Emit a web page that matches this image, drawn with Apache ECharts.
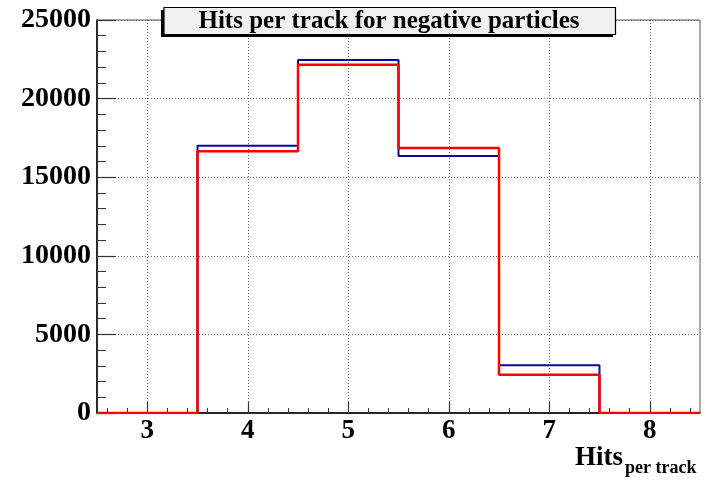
<!DOCTYPE html>
<html>
<head>
<meta charset="utf-8">
<script src="https://cdn.jsdelivr.net/npm/echarts@6/dist/echarts.min.js"></script>
<style>
  html, body { margin: 0; padding: 0; background: #fff; }
  #chart { width: 706px; height: 483px; }
</style>
</head>
<body>
<div id="chart"></div>
<script>
// Histogram bins: number of hits per track (bin centres)
var hitBins = [3, 4, 5, 6, 7, 8];
// Entries per bin, two samples
var blueCounts = [0, 17000, 22450, 16350, 3030, 0];
var redCounts  = [0, 16650, 22150, 16850, 2430, 0];
// Axis tick labels
var xTickLabels = [3, 4, 5, 6, 7, 8];
var yTicks = [0, 5000, 10000, 15000, 20000, 25000];

var xMin = 2.5, xMax = 8.5;
var serifFont = '"Liberation Serif", "DejaVu Serif", serif';

// Build step outline points at bin edges (value holds until the next edge)
function stepPoints(centres, counts) {
  var pts = [];
  for (var i = 0; i < centres.length; i++) {
    pts.push([centres[i] - 0.5, counts[i]]);
  }
  var last = centres.length - 1;
  pts.push([centres[last] + 0.5, counts[last]]);
  return pts;
}

// Minor tick positions every 0.2 along x, skipping the major ones
var xMinorTicks = [];
for (var k = 13; k <= 42; k++) {
  var v = k / 5;
  if (Math.abs(v - Math.round(v)) > 1e-6) xMinorTicks.push(v);
}

var chart = echarts.init(document.getElementById('chart'), null, { renderer: 'canvas' });

chart.setOption({
  backgroundColor: '#ffffff',
  animation: false,
  grid: {
    left: 97, right: 6, top: 20, height: 393,
    show: true, borderColor: '#555', borderWidth: 1, backgroundColor: 'transparent'
  },
  xAxis: [{
    type: 'value', min: xMin, max: xMax, position: 'bottom',
    axisLine: { show: true, onZero: false, lineStyle: { color: '#000', width: 1.5 } },
    axisTick: { show: true, inside: true, length: 11, customValues: xTickLabels, lineStyle: { color: '#333', width: 1.2 } },
    axisLabel: {
      customValues: xTickLabels, margin: 5,
      color: '#000', fontFamily: serifFont, fontWeight: 'bold', fontSize: 27,
      formatter: function (v) { return String(v); }
    },
    splitLine: { show: true, lineStyle: { color: '#666', type: [1, 2], width: 1 } }
  }, {
    type: 'value', min: xMin, max: xMax, position: 'bottom', offset: 0,
    axisLine: { show: false },
    axisTick: { show: true, inside: true, length: 5, customValues: xMinorTicks, lineStyle: { color: '#333', width: 1 } },
    axisLabel: { show: false },
    splitLine: { show: false }
  }],
  yAxis: {
    type: 'value', min: yTicks[0], max: yTicks[yTicks.length - 1], interval: 5000,
    axisLine: { show: true, lineStyle: { color: '#000', width: 1.5 } },
    axisTick: { show: true, inside: true, length: 19, lineStyle: { color: '#333', width: 1.2 } },
    minorTick: { show: true, splitNumber: 5, length: 9, lineStyle: { color: '#333', width: 1 } },
    axisLabel: {
      margin: 6, color: '#000', fontFamily: serifFont, fontWeight: 'bold', fontSize: 28,
      formatter: function (v) { return String(v); }
    },
    splitLine: { show: true, lineStyle: { color: '#666', type: [1, 2], width: 1 } }
  },
  series: [{
    type: 'line', step: 'end', showSymbol: false, xAxisIndex: 0,
    data: stepPoints(hitBins, blueCounts),
    lineStyle: { color: '#0a0a96', width: 2 }, z: 3
  }, {
    type: 'line', step: 'end', showSymbol: false, xAxisIndex: 0,
    data: stepPoints(hitBins, redCounts),
    lineStyle: { color: '#ff0000', width: 2.5 }, z: 4
  }],
  graphic: [
    { type: 'rect', shape: { x: 161, y: 10, width: 452, height: 27 }, style: { fill: '#000' }, z: 100 },
    { type: 'rect', shape: { x: 164, y: 7.5, width: 451.5, height: 27 }, style: { fill: '#f0f0f0', stroke: '#000', lineWidth: 1.2 }, z: 101 },
    { type: 'text', x: 389, y: 21.5, z: 102,
      style: { text: 'Hits per track for negative particles', fill: '#000', font: 'bold 25px ' + serifFont, align: 'center', verticalAlign: 'middle' } },
    { type: 'text', x: 623, y: 458, z: 102,
      style: { text: 'Hits', fill: '#000', font: 'bold 27px ' + serifFont, align: 'right', verticalAlign: 'middle' } },
    { type: 'text', x: 625, y: 468, z: 102,
      style: { text: 'per track', fill: '#000', font: 'bold 18px ' + serifFont, align: 'left', verticalAlign: 'middle' } }
  ]
});
</script>
</body>
</html>
